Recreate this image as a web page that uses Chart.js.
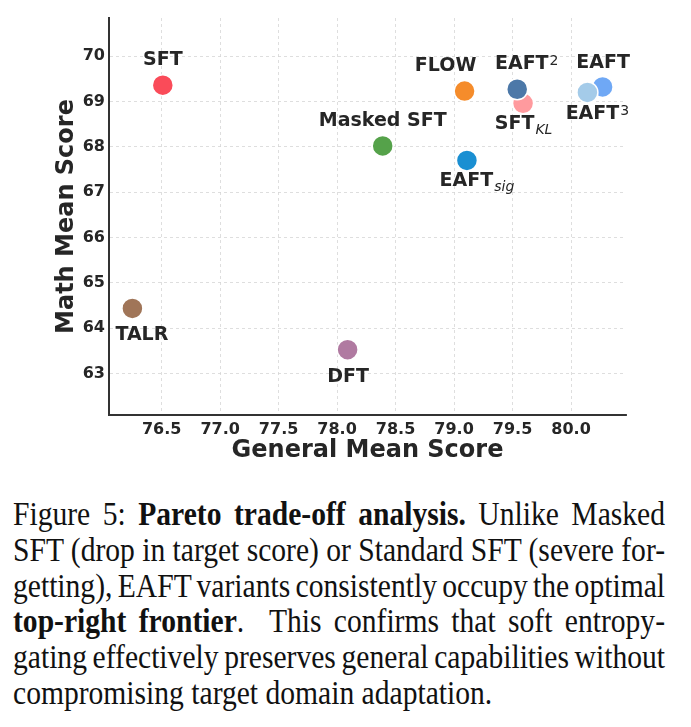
<!DOCTYPE html>
<html>
<head>
<meta charset="utf-8">
<script src="https://cdn.jsdelivr.net/npm/chart.js@4.4.0/dist/chart.umd.min.js"></script>
<style>
  body { margin: 0; background: #fff; width: 691px; height: 727px; overflow: hidden; position: relative; }
  #chart { position: absolute; left: 0; top: 0; }
  #caption {
    position: absolute; left: 13px; top: 496px;
    font-family: "Liberation Serif", "Times New Roman", serif; font-size: 34px; line-height: 35.8px;
    color: #111; transform: scaleX(0.87); transform-origin: 0 0;
  }
  #caption .ln { white-space: nowrap; }
</style>
</head>
<body>
<canvas id="chart" width="691" height="475"></canvas>
<div id="caption">
  <div class="ln"><span>Figure 5: <b>Pareto trade-off analysis.</b> Unlike Masked</span></div>
  <div class="ln"><span>SFT (drop in target score) or Standard SFT (severe for-</span></div>
  <div class="ln"><span>getting), EAFT variants consistently occupy the optimal</span></div>
  <div class="ln"><span><b>top-right frontier</b>. &nbsp;This confirms that soft entropy-</span></div>
  <div class="ln"><span>gating effectively preserves general capabilities without</span></div>
  <div class="ln last"><span>compromising target domain adaptation.</span></div>
</div>
<script>
// '_' marks a subscript, '^' a superscript
const methods = ['SFT', 'TALR', 'DFT', 'Masked SFT', 'FLOW', 'EAFT_sig', 'SFT_KL', 'EAFT^2', 'EAFT', 'EAFT^3'];
const generalScore = [76.51, 76.25, 78.09, 78.39, 79.09, 79.11, 79.59, 79.54, 80.27, 80.14];
const mathScore = [69.36, 64.44, 63.53, 68.02, 69.23, 67.70, 68.96, 69.27, 69.32, 69.20];
const xTicks = [76.5, 77.0, 77.5, 78.0, 78.5, 79.0, 79.5, 80.0];
const yTicks = [63, 64, 65, 66, 67, 68, 69, 70];
const xRange = [76.05, 80.47];
const yRange = [62.09, 70.84];

const pointColors = ['#fa4b59', '#a07558', '#b07aa1', '#55a24a', '#f58c2b', '#1a8fd2', '#ff9a9e', '#4c78a8', '#6fa8f5', '#a4cbe9'];

// label centre relative to its point, in pixels
const labelOffsets = {
  'SFT': [0, -25], 'TALR': [9.5, 27], 'DFT': [0.5, 27], 'Masked SFT': [0, -25],
  'FLOW': [-19, -25], 'EAFT_sig': [10, 21], 'SFT_KL': [0.5, 21], 'EAFT^2': [9.5, -25],
  'EAFT': [0.5, -24], 'EAFT^3': [10, 22]
};

const textColor = '#262626';
const mainFont = 'bold 19px "DejaVu Sans"';

const pointLabels = {
  id: 'pointLabels',
  afterDatasetsDraw(chart) {
    const ctx = chart.ctx;
    chart.getDatasetMeta(0).data.forEach((pt, i) => {
      const name = methods[i];
      const m = name.match(/^([^_^]+)([_^])?(.*)$/);
      const main = m[1], mark = m[2], script = m[3];
      const [dx, dy] = labelOffsets[name];
      const scriptFont = (mark === '_' ? 'italic ' : '') + '14px "DejaVu Sans"';
      ctx.save();
      ctx.fillStyle = textColor;
      ctx.textBaseline = 'middle';
      ctx.textAlign = 'left';
      ctx.font = mainFont;
      const wMain = ctx.measureText(main).width;
      let wScript = 0;
      if (script) {
        ctx.font = scriptFont;
        wScript = ctx.measureText(script).width + 1;
      }
      const x = pt.x + dx - (wMain + wScript) / 2;
      const y = pt.y + dy;
      ctx.font = mainFont;
      ctx.fillText(main, x, y);
      if (script) {
        ctx.font = scriptFont;
        ctx.fillText(script, x + wMain + 1, y + (mark === '^' ? -3 : 6));
      }
      ctx.restore();
    });
  }
};

const tickFont = { family: 'DejaVu Sans', size: 16, weight: 'bold' };
const titleFont = { family: 'DejaVu Sans', size: 24, weight: 'bold' };
const gridOpts = { color: '#d6d6d6', lineWidth: 0.8, drawTicks: false };
const borderOpts = { display: true, color: '#333', width: 2, dash: [3, 3] };

new Chart(document.getElementById('chart'), {
  type: 'scatter',
  data: {
    datasets: [{
      data: methods.map((m, i) => ({ x: generalScore[i], y: mathScore[i] })),
      backgroundColor: pointColors,
      borderColor: '#ffffff',
      borderWidth: 1.5,
      pointRadius: 10.5,
      pointHoverRadius: 10.5
    }]
  },
  options: {
    responsive: false,
    animation: false,
    events: [],
    layout: { padding: { top: 18, right: 65, left: 0, bottom: 0 } },
    plugins: { legend: { display: false }, tooltip: { enabled: false } },
    scales: {
      x: {
        type: 'linear', min: xRange[0], max: xRange[1],
        afterBuildTicks: s => { s.ticks = xTicks.map(v => ({ value: v })); },
        afterFit: s => { s.height = 60; },
        grid: gridOpts,
        border: borderOpts,
        ticks: { font: tickFont, color: textColor, padding: 5, callback: v => v.toFixed(1), maxRotation: 0 },
        title: { display: true, text: 'General Mean Score', font: titleFont, color: textColor, padding: { top: 0, bottom: 10 } }
      },
      y: {
        type: 'linear', min: yRange[0], max: yRange[1],
        afterBuildTicks: s => { s.ticks = yTicks.map(v => ({ value: v })); },
        afterFit: s => { s.width = 109; },
        grid: gridOpts,
        border: borderOpts,
        ticks: { font: tickFont, color: textColor, padding: 4, callback: v => String(v) },
        title: { display: true, text: 'Math Mean Score', font: titleFont, color: textColor, padding: { top: 52, bottom: 0 } }
      }
    }
  },
  plugins: [pointLabels]
});

// justify each caption line to the column width by spreading (or squeezing) the word gaps
const scaleX = 0.87;
const colWidth = 652 / scaleX;
document.querySelectorAll('#caption .ln:not(.last) span').forEach(span => {
  const gaps = (span.textContent.match(/[ \u00a0]/g) || []).length;
  const extra = colWidth - span.getBoundingClientRect().width / scaleX;
  span.style.wordSpacing = (extra / gaps) + 'px';
});
</script>
</body>
</html>
